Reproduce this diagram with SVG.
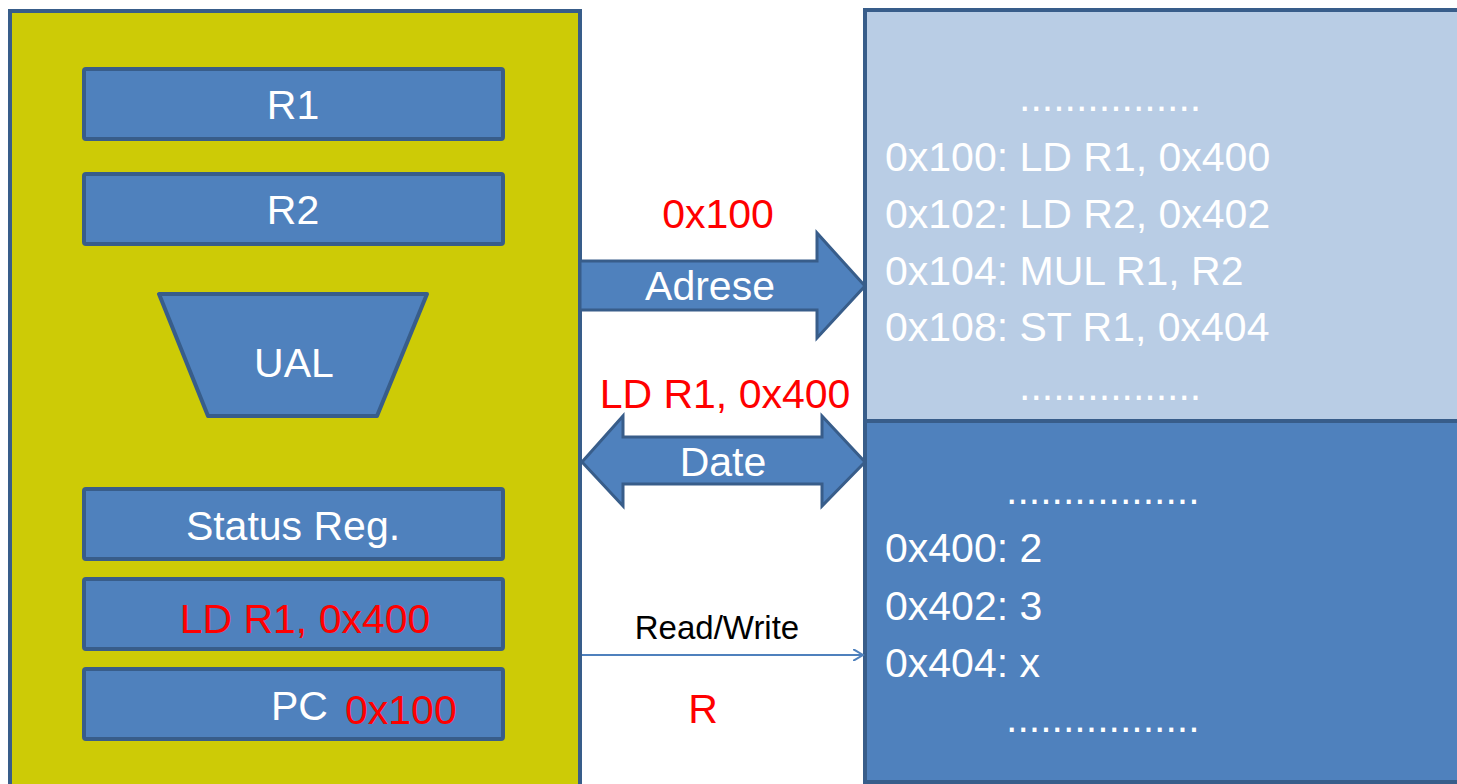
<svg xmlns="http://www.w3.org/2000/svg" width="1457" height="784" viewBox="0 0 1457 784">
  <style>
    .box { fill: #4f81bd; stroke: #385d8a; stroke-width: 4; stroke-linejoin: round; }
    .cpu { fill: #cdcb06; stroke: #385d8a; stroke-width: 4; }
    .memcode { fill: #b9cde5; stroke: #385d8a; stroke-width: 4; }
    .memdata { fill: #4f81bd; stroke: #385d8a; stroke-width: 4; }
    .bus { fill: #4f81bd; stroke: #385d8a; stroke-width: 3; stroke-linejoin: miter; }
    text { font-family: "Liberation Sans", Arial, sans-serif; font-size: 41px; }
    .w { fill: #ffffff; }
    .r { fill: #ff0000; }
    .k { fill: #000000; font-size: 33px; }
    .c { text-anchor: middle; }
  </style>
  <defs>
    <marker id="open" markerWidth="12" markerHeight="12" refX="10" refY="6" orient="auto" markerUnits="userSpaceOnUse" viewBox="0 0 12 12">
      <path d="M0,0 L10,6 L0,12" fill="none" stroke="#4f81bd" stroke-width="2"/>
    </marker>
  </defs>

  <rect width="1457" height="784" fill="#ffffff"/>

  <g id="cpu">
    <rect class="cpu" x="10" y="11" width="570" height="790"/>
  </g>
  <g id="r1">
    <rect class="box" x="84" y="69" width="419" height="70" rx="2"/>
    <text class="w c" x="293" y="119">R1</text>
  </g>
  <g id="r2">
    <rect class="box" x="84" y="174" width="419" height="70" rx="2"/>
    <text class="w c" x="293" y="224">R2</text>
  </g>
  <g id="ual">
    <polygon class="box" points="159,294 427,294 377,416 208,416"/>
    <text class="w c" x="294" y="377">UAL</text>
  </g>
  <g id="status">
    <rect class="box" x="84" y="489" width="419" height="70" rx="2"/>
    <text class="w c" x="293" y="540">Status Reg.</text>
  </g>
  <g id="ir">
    <rect class="box" x="84" y="579" width="419" height="70" rx="2"/>
    <text class="r c" x="305" y="633">LD R1, 0x400</text>
  </g>
  <g id="pc">
    <rect class="box" x="84" y="669" width="419" height="70" rx="2"/>
    <text class="w" x="271" y="720">PC</text>
    <text class="r" x="345" y="724">0x100</text>
  </g>

  <g id="mem-code">
    <rect class="memcode" x="865" y="10" width="620" height="411"/>
    <text class="w" x="1019" y="111">................</text>
    <text class="w" x="885" y="171">0x100: LD R1, 0x400</text>
    <text class="w" x="885" y="228">0x102: LD R2, 0x402</text>
    <text class="w" x="885" y="285">0x104: MUL R1, R2</text>
    <text class="w" x="885" y="341">0x108: ST R1, 0x404</text>
    <text class="w" x="1019" y="400">................</text>
  </g>
  <g id="mem-data">
    <rect class="memdata" x="865" y="421" width="620" height="361"/>
    <text class="w" x="1006" y="504">.................</text>
    <text class="w" x="885" y="562">0x400: 2</text>
    <text class="w" x="885" y="620">0x402: 3</text>
    <text class="w" x="885" y="677">0x404: x</text>
    <text class="w" x="1006" y="732">.................</text>
  </g>

  <g id="connectors">
    <g id="adrese">
      <polygon class="bus" points="580,261 817,261 817,233 865,286 817,338 817,310 580,310"/>
      <text class="r c" x="718" y="228">0x100</text>
      <text class="w c" x="710" y="300">Adrese</text>
    </g>
    <g id="date">
      <polygon class="bus" points="582,462 623,416 623,437 822,437 822,416 865,462 822,506 822,484 623,484 623,506"/>
      <text class="r c" x="725" y="408">LD R1, 0x400</text>
      <text class="w c" x="723" y="476">Date</text>
    </g>
    <g id="readwrite">
      <line x1="582" y1="655" x2="863" y2="655" stroke="#4f81bd" stroke-width="2" marker-end="url(#open)"/>
      <text class="k c" x="717" y="639">Read/Write</text>
      <text class="r c" x="703" y="723">R</text>
    </g>
  </g>
</svg>
